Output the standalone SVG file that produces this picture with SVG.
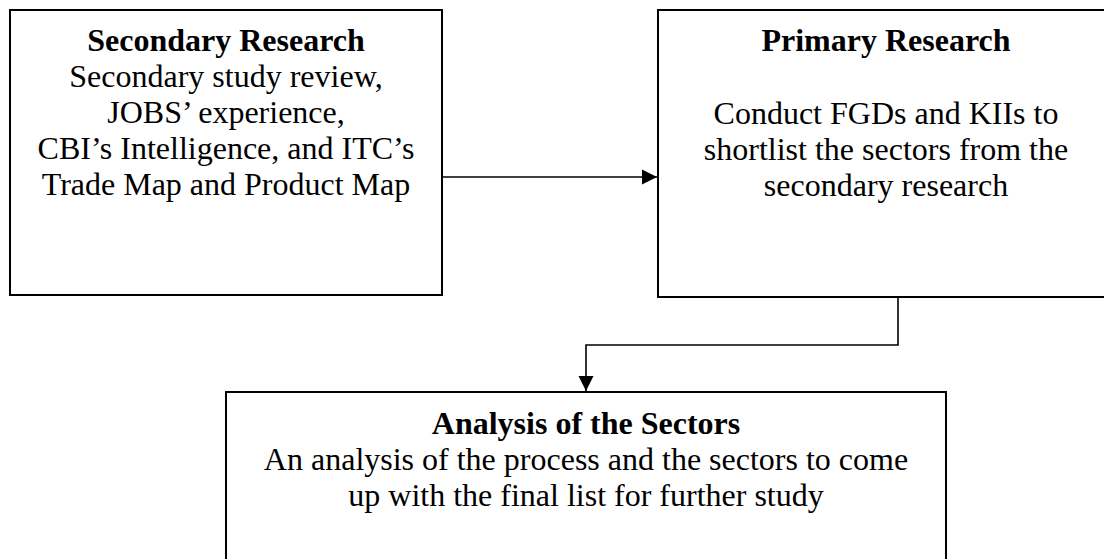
<svg xmlns="http://www.w3.org/2000/svg" width="1104" height="559" viewBox="0 0 1104 559">
<defs>
<style>
.box{fill:#fff;stroke:#000;stroke-width:2}
.t{font-family:"Liberation Serif","Times New Roman",serif;font-size:32px;fill:#000;text-anchor:middle}
.b{font-weight:bold}
.c{fill:none;stroke:#000;stroke-width:1.6}
</style>
<marker id="ah" markerWidth="16" markerHeight="16" refX="15" refY="8" orient="auto" markerUnits="userSpaceOnUse">
<path d="M0,0.5 L15,8 L0,15.5 Z" fill="#000"/>
</marker>
</defs>
<rect width="1104" height="559" fill="#fff"/>
<g id="secondary">
<rect class="box" x="10" y="10" width="432" height="285"/>
<text class="t b" x="226" y="51">Secondary Research</text>
<text class="t" x="226" y="87">Secondary study review,</text>
<text class="t" x="226" y="123">JOBS’ experience,</text>
<text class="t" x="226" y="159">CBI’s Intelligence, and ITC’s</text>
<text class="t" x="226" y="195">Trade Map and Product Map</text>
</g>
<g id="primary">
<rect class="box" x="658" y="10" width="460" height="287"/>
<text class="t b" x="886" y="51">Primary Research</text>
<text class="t" x="886" y="124">Conduct FGDs and KIIs to</text>
<text class="t" x="886" y="160">shortlist the sectors from the</text>
<text class="t" x="886" y="196">secondary research</text>
</g>
<g id="analysis">
<rect class="box" x="226" y="392" width="720" height="180"/>
<text class="t b" x="586" y="434">Analysis of the Sectors</text>
<text class="t" x="586" y="470">An analysis of the process and the sectors to come</text>
<text class="t" x="586" y="506">up with the final list for further study</text>
</g>
<g id="connectors">
<path class="c" d="M442,177 H657" marker-end="url(#ah)"/>
<path class="c" d="M898,297 V345 H586 V391" marker-end="url(#ah)"/>
</g>
</svg>
